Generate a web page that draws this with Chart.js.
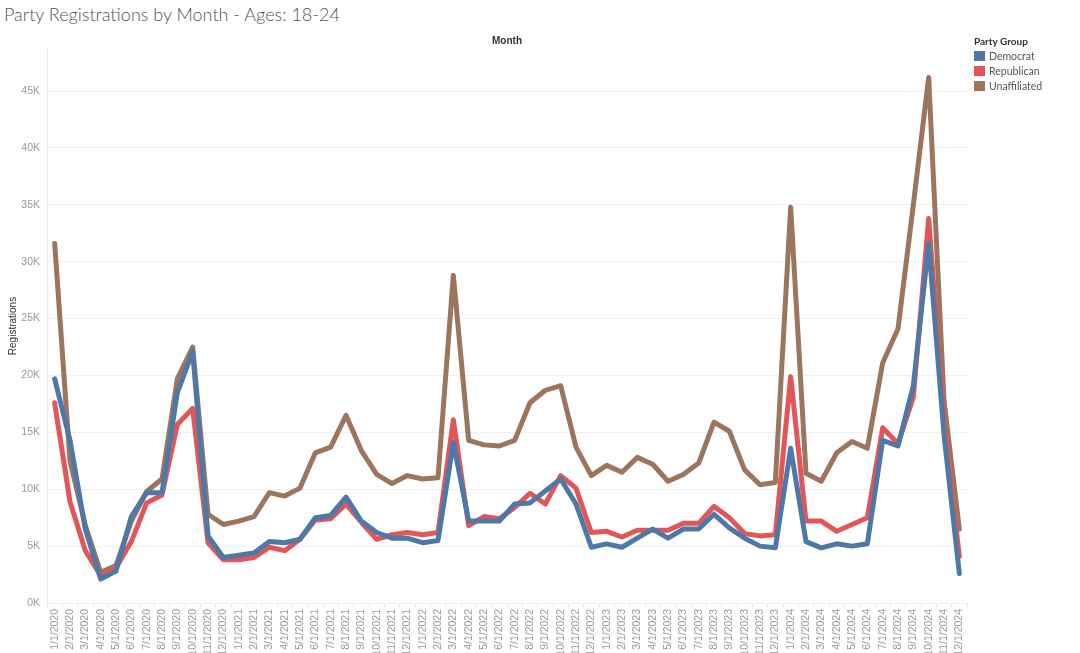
<!DOCTYPE html>
<html>
<head>
<meta charset="utf-8">
<script src="https://cdn.jsdelivr.net/npm/chart.js@4.4.0/dist/chart.umd.min.js"></script>
<style>
  body { margin: 0; background: #fff; width: 1080px; height: 653px; overflow: hidden; position: relative; font-family: Lato, "Open Sans", sans-serif; }
  #title { position: absolute; left: 4px; top: 3px; font-size: 18px; font-weight: 300; color: #555; white-space: nowrap; }
  #wrap { position: absolute; left: 0; top: 0; width: 1080px; height: 653px; }
  #legend { position: absolute; left: 974px; top: 35px; font-size: 10.5px; color: #555; }
  #legend .head { font-weight: bold; color: #333; font-size: 10px; margin-bottom: 3px; }
  #legend .item { height: 15px; line-height: 12px; white-space: nowrap; }
  #legend .sw { display: inline-block; width: 11px; height: 10px; vertical-align: -1px; margin-right: 4px; }
</style>
</head>
<body>
<div id="title">Party Registrations by Month - Ages: 18-24</div>
<div id="wrap"><canvas id="grafica"></canvas></div>
<div id="legend"></div>

<script>
// categorias (meses)
const months = [
    "1/1/2020", "2/1/2020", "3/1/2020", "4/1/2020", "5/1/2020", "6/1/2020",
    "7/1/2020", "8/1/2020", "9/1/2020", "10/1/2020", "11/1/2020", "12/1/2020",
    "1/1/2021", "2/1/2021", "3/1/2021", "4/1/2021", "5/1/2021", "6/1/2021",
    "7/1/2021", "8/1/2021", "9/1/2021", "10/1/2021", "11/1/2021", "12/1/2021",
    "1/1/2022", "2/1/2022", "3/1/2022", "4/1/2022", "5/1/2022", "6/1/2022",
    "7/1/2022", "8/1/2022", "9/1/2022", "10/1/2022", "11/1/2022", "12/1/2022",
    "1/1/2023", "2/1/2023", "3/1/2023", "4/1/2023", "5/1/2023", "6/1/2023",
    "7/1/2023", "8/1/2023", "9/1/2023", "10/1/2023", "11/1/2023", "12/1/2023",
    "1/1/2024", "2/1/2024", "3/1/2024", "4/1/2024", "5/1/2024", "6/1/2024",
    "7/1/2024", "8/1/2024", "9/1/2024", "10/1/2024", "11/1/2024", "12/1/2024"
];

const democrat = [
    19700, 14300, 6500, 2100, 2800, 7600, 9700, 9700, 18500, 22100, 5900, 4000,
    4200, 4400, 5400, 5300, 5600, 7500, 7700, 9300, 7200, 6200, 5700, 5700,
    5300, 5500, 14100, 7200, 7200, 7200, 8700, 8800, 9850, 10900, 8700, 4900,
    5200, 4900, 5700, 6500, 5700, 6500, 6500, 7800, 6600, 5700, 5000, 4850,
    13600, 5400, 4850, 5200, 5000, 5200, 14300, 13800, 19100, 31600, 14800, 2600
];

const republican = [
    17600, 8900, 4600, 2400, 3100, 5400, 8800, 9500, 15700, 17100, 5300, 3800,
    3800, 4000, 4900, 4600, 5600, 7300, 7400, 8700, 7100, 5600, 6000, 6200,
    6000, 6200, 16100, 6800, 7600, 7400, 8400, 9650, 8700, 11200, 10100, 6200,
    6300, 5800, 6400, 6400, 6400, 7000, 7000, 8500, 7500, 6100, 5900, 6000,
    19900, 7200, 7200, 6300, 6900, 7500, 15400, 14000, 18100, 33800, 16000, 4100
];

const unaffiliated = [
    31600, 12500, 6800, 2700, 3300, 7200, 9800, 10900, 19700, 22500, 7800, 6900,
    7200, 7600, 9700, 9400, 10100, 13200, 13700, 16500, 13400, 11300, 10500, 11200,
    10900, 11000, 28800, 14300, 13900, 13800, 14300, 17600, 18700, 19100, 13700, 11200,
    12100, 11500, 12800, 12200, 10700, 11300, 12300, 15900, 15100, 11700, 10400, 10600,
    34800, 11400, 10700, 13200, 14200, 13600, 21100, 24100, 35000, 46200, 17800, 6500
];

const yTicks = [0, 5000, 10000, 15000, 20000, 25000, 30000, 35000, 40000, 45000];

const series = [
    { name: "Democrat", data: democrat, color: "#4e79a7" },
    { name: "Republican", data: republican, color: "#e15759" },
    { name: "Unaffiliated", data: unaffiliated, color: "#9c755f" }
];

// leyenda
const legend = document.getElementById("legend");
legend.innerHTML = '<div class="head">Party Group</div>' + series.map(s =>
    '<div class="item"><span class="sw" style="background:' + s.color + '"></span>' + s.name + '</div>'
).join("");

let chart = new Chart(document.getElementById("grafica"), {
    type: "line",
    data: {
        labels: months,
        datasets: series.map(s => ({
            label: s.name,
            data: s.data,
            borderColor: s.color,
            backgroundColor: s.color,
            borderWidth: 5,
            pointRadius: 0,
            tension: 0,
            borderJoinStyle: "round",
            borderCapStyle: "round"
        }))
    },
    options: {
        responsive: true,
        maintainAspectRatio: false,
        animation: false,
        layout: { padding: { top: 30, right: 113, left: 0, bottom: 0 } },
        plugins: { legend: { display: false }, tooltip: { enabled: false } },
        scales: {
            x: {
                type: "category",
                position: "bottom",
                offset: true,
                grid: { offset: true, drawOnChartArea: false, drawTicks: true, tickLength: 4, color: "#e4e4e4" },
                border: { display: false },
                ticks: { autoSkip: false, maxRotation: 90, minRotation: 90, color: "#999", font: { size: 10.5 }, padding: 2 },
                afterFit: s => { s.height = 50; }
            },
            x2: {
                type: "category",
                position: "top",
                labels: months,
                offset: true,
                grid: { display: false },
                border: { display: false },
                ticks: { display: false },
                title: { display: true, text: "Month", color: "#333", font: { size: 10, weight: "bold" }, padding: { top: 5, bottom: 2 } },
                afterFit: s => { s.height = 19; }
            },
            y: {
                min: 0,
                max: 48700,
                ticks: { stepSize: 5000, color: "#999", font: { size: 10.5 }, padding: 7, callback: v => (v / 1000) + "K" },
                afterBuildTicks: s => { s.ticks = yTicks.map(v => ({ value: v })); },
                grid: { color: "#f0f0f0", drawTicks: false },
                border: { display: true, color: "#e8e8e8" },
                title: { display: true, text: "Registrations", color: "#333", font: { size: 10 }, padding: { top: 7, bottom: 0 } },
                afterFit: s => { s.width = 47; }
            }
        }
    }
});
</script>
</body>
</html>
